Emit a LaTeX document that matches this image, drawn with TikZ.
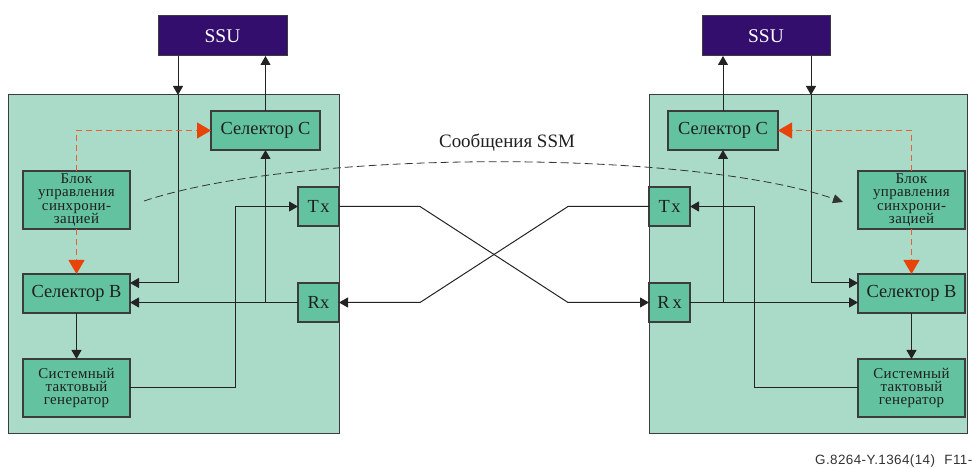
\documentclass[tikz,border=0pt]{standalone}
\usepackage{fontspec}
\setmainfont{Liberation Serif}
\newfontfamily\footfont{Liberation Sans}
\usetikzlibrary{arrows.meta,calc}

\definecolor{panelfill}{RGB}{170,219,200}
\definecolor{boxfill}{RGB}{99,195,160}
\definecolor{ssufill}{RGB}{52,14,108}
\definecolor{ctrlred}{RGB}{232,68,10}
\definecolor{edgegray}{RGB}{60,60,60}
\definecolor{wire}{RGB}{35,35,35}

\begin{document}
\begin{tikzpicture}[x=1bp,y=-1bp,
  panel/.style={draw=edgegray,fill=panelfill,line width=1bp,inner sep=0,outer sep=0},
  unit/.style={draw=edgegray,fill=boxfill,line width=1.1bp,inner sep=0,outer sep=0,
    text=black!88,align=center},
  wide/.style={unit,minimum width=107bp,minimum height=39bp,
    font=\fontsize{18.5}{20}\selectfont},
  tall/.style={unit,minimum width=107bp,minimum height=58bp,
    font=\fontsize{15}{13.5}\selectfont\addfontfeatures{LetterSpace=2.5}},
  port/.style={unit,minimum width=41bp,minimum height=39bp,
    font=\fontsize{18.5}{20}\selectfont},
  ssubox/.style={draw=edgegray,fill=ssufill,line width=1bp,inner sep=0,outer sep=0,
    minimum width=129bp,minimum height=40bp,text=white,
    font=\fontsize{19.5}{20}\selectfont},
  arr/.style={draw=wire,line width=1bp,-{Triangle[length=9bp,width=10bp]}},
  ctrl/.style={draw=ctrlred!85!white,line width=1.1bp,dash pattern=on 6bp off 4bp,
    -{Triangle[length=14bp,width=16bp,color=ctrlred,fill=ctrlred]}},
  ssm/.style={draw=black!80,line width=0.8bp,dash pattern=on 8bp off 4bp,
    -{Triangle[length=10bp,width=9bp]}}
]
\useasboundingbox (0,0) rectangle (972,468);

% equipment panels
\node[panel,minimum width=330bp,minimum height=338bp] (panelL) at (174,264) {};
\node[panel,minimum width=318bp,minimum height=338bp] (panelR) at (808,264) {};

% left equipment
\node[ssubox] (ssuL) at (222.5,36) {SSU};
\node[wide,minimum width=109bp] (selCL) at (265.5,130.5) {Селектор C};
\node[tall] (blkL) at (76.5,200) {Блок\\управления\\синхрони-\\зацией};
\node[wide] (selBL) at (76.5,293.5) {Селектор B};
\node[tall] (genL) at (76.5,388) {Системный\\тактовый\\генератор};
\node[port] (txL) at (318.5,206.5) {T\kern1.5bp x};
\node[port] (rxL) at (318.5,302.5) {Rx};

% right equipment
\node[ssubox,minimum width=128bp] (ssuR) at (766,36) {SSU};
\node[wide,minimum width=110bp] (selCR) at (723,130.5) {Селектор C};
\node[tall] (blkR) at (911.5,200) {Блок\\управления\\синхрони-\\зацией};
\node[wide] (selBR) at (911.5,293.5) {Селектор B};
\node[tall] (genR) at (911.5,388) {Системный\\тактовый\\генератор};
\node[port] (txR) at (669.5,206.5) {T\kern1.5bp x};
\node[port] (rxR) at (669.5,302.5) {R\kern3bp x};

\coordinate (aL) at (178,95);
\coordinate (aR) at (811,95);

% left wiring
\draw[arr] (ssuL.south -| aL) -- (aL);
\draw[arr] (aL) |- ([yshift=10.5bp]selBL.east);
\draw[arr] (selCL.north) -- (selCL.north |- ssuL.south);
\draw[arr] (rxL.west) -- (selBL.east |- rxL.west);
\draw[arr] (selCL.south |- rxL.west) -- (selCL.south);
\draw[arr] (genL.east) -| ([xshift=-63bp]txL.west) -- (txL.west);
\draw[arr] (selBL.south) -- (genL.north);
\draw[ctrl] (blkL.north) |- (selCL.west);
\draw[ctrl] (blkL.south) -- (selBL.north);

% right wiring
\draw[arr] (ssuR.south -| aR) -- (aR);
\draw[arr] (aR) |- ([yshift=10.5bp]selBR.west);
\draw[arr] (selCR.north) -- (selCR.north |- ssuR.south);
\draw[arr] (rxR.east) -- (selBR.west |- rxR.east);
\draw[arr] (selCR.south |- rxR.east) -- (selCR.south);
\draw[arr] (genR.west) -| ([xshift=64bp]txR.east) -- (txR.east);
\draw[arr] (selBR.south) -- (genR.north);
\draw[ctrl] (blkR.north) |- (selCR.east);
\draw[ctrl] (blkR.south) -- (selBR.north);

% crossed line between the two equipments
\draw[arr] (txL.east) -- ++(81,0) -- ([xshift=-81bp]rxR.west) -- (rxR.west);
\draw[arr] (txR.west) -- ++(-81,0) -- ([xshift=81bp]rxL.east) -- (rxL.east);

% SSM message path
\draw[ssm] ([xshift=14bp,yshift=-1bp]blkL.east) .. controls (300,149) and (690,149) .. ([xshift=-15bp,yshift=-2bp]blkR.west);
\node[font=\fontsize{19}{20}\selectfont,text=black!88] (ssmlbl) at (507,143) {Сообщения SSM};

% figure reference
\node[anchor=base west,inner sep=0,text=black!80,
  font=\footfont\fontsize{13.5}{14}\selectfont\addfontfeatures{LetterSpace=3}] (fig) at (815,464.5) {G.8264-Y.1364(14)\hspace{0.7em}F11-};
\end{tikzpicture}
\end{document}
